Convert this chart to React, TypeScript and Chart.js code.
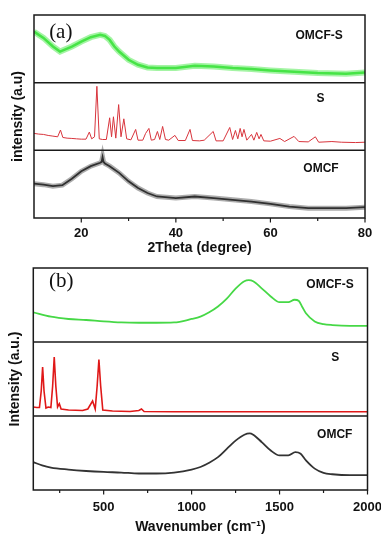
import { useEffect, useRef } from "react";
import { Chart, registerables } from "chart.js";

Chart.register(...registerables);

// ---------- Panel (a): XRD, 2Theta (degree) ----------
const xrdOmcfSX = [10, 12, 14, 15.5, 18, 20, 22, 24, 25, 26, 27, 28, 30, 32, 34, 36, 40, 44, 48, 52, 56, 60, 64, 70, 76, 80];
const xrdOmcfSY = [0.754, 0.662, 0.534, 0.46, 0.534, 0.607, 0.672, 0.706, 0.691, 0.632, 0.534, 0.46, 0.338, 0.265, 0.225, 0.216, 0.216, 0.25, 0.24, 0.216, 0.201, 0.181, 0.166, 0.143, 0.132, 0.151];

const xrdSX = [10, 11, 12, 13, 14, 15, 15.6, 16.1, 17, 18, 19, 20, 21, 21.7, 22.2, 22.8, 23.3, 23.8, 24.5, 25.3, 26.0, 26.4, 26.8, 27.3, 27.9, 28.4, 29.0, 29.6, 30.5, 31.5, 32.0, 33.0, 33.6, 34.3, 34.8, 35.5, 36.1, 36.6, 37.2, 37.8, 38.5, 39.8, 40.5, 42, 43.0, 43.5, 45, 46, 47.9, 48.5, 50, 51.4, 52.0, 52.6, 53.1, 53.6, 54.0, 54.4, 55.0, 56.0, 56.5, 57.1, 57.6, 58.0, 58.6, 60, 62, 63, 65, 66, 68, 69.5, 70.2, 73, 75, 78, 80];
const xrdSY = [0.25, 0.24, 0.235, 0.22, 0.21, 0.2, 0.3, 0.19, 0.18, 0.176, 0.17, 0.165, 0.165, 0.27, 0.17, 0.2, 0.946, 0.17, 0.16, 0.16, 0.481, 0.2, 0.496, 0.18, 0.676, 0.2, 0.466, 0.17, 0.155, 0.309, 0.15, 0.15, 0.25, 0.324, 0.15, 0.16, 0.279, 0.16, 0.353, 0.16, 0.15, 0.221, 0.145, 0.145, 0.309, 0.145, 0.14, 0.15, 0.279, 0.14, 0.14, 0.338, 0.16, 0.294, 0.17, 0.324, 0.2, 0.309, 0.15, 0.235, 0.15, 0.265, 0.17, 0.235, 0.14, 0.135, 0.176, 0.13, 0.206, 0.13, 0.125, 0.2, 0.12, 0.13, 0.12, 0.115, 0.12];

const xrdOmcfX = [10, 12, 14, 16, 18, 20, 22, 24, 24.3, 24.5, 24.7, 25, 26, 28, 30, 32, 34, 36, 40, 44, 48, 52, 56, 60, 64, 68, 72, 76, 80];
const xrdOmcfY = [0.507, 0.493, 0.47, 0.485, 0.58, 0.691, 0.766, 0.816, 0.83, 0.9, 0.83, 0.806, 0.766, 0.667, 0.542, 0.443, 0.369, 0.318, 0.294, 0.318, 0.294, 0.269, 0.243, 0.209, 0.169, 0.145, 0.145, 0.145, 0.16];

const xrdTicks = [10, 20, 30, 40, 50, 60, 70, 80];

// ---------- Panel (b): Raman, Wavenumber (cm-1) ----------
const ramanOmcfSX = [100, 200, 300, 400, 500, 600, 700, 800, 900, 1000, 1050, 1100, 1150, 1200, 1250, 1300, 1325, 1350, 1400, 1450, 1500, 1550, 1585, 1610, 1630, 1650, 1700, 1750, 1800, 1900, 2000];
const ramanOmcfSY = [0.401, 0.342, 0.311, 0.297, 0.278, 0.264, 0.26, 0.26, 0.264, 0.311, 0.342, 0.401, 0.479, 0.585, 0.722, 0.822, 0.836, 0.822, 0.722, 0.616, 0.538, 0.538, 0.571, 0.555, 0.47, 0.388, 0.278, 0.242, 0.229, 0.219, 0.219];

const ramanSX = [100, 120, 135, 145, 153, 161, 172, 185, 200, 210, 219, 228, 238, 248, 258, 300, 380, 410, 437, 452, 463, 473, 483, 495, 550, 650, 700, 715, 730, 900, 1200, 2000];
const ramanSY = [0.122, 0.115, 0.115, 0.338, 0.662, 0.338, 0.108, 0.122, 0.115, 0.405, 0.797, 0.405, 0.122, 0.166, 0.095, 0.081, 0.074, 0.095, 0.203, 0.095, 0.405, 0.764, 0.405, 0.081, 0.068, 0.061, 0.074, 0.095, 0.061, 0.058, 0.058, 0.058];

const ramanOmcfX = [100, 150, 200, 300, 400, 500, 600, 700, 800, 900, 1000, 1050, 1100, 1150, 1200, 1250, 1300, 1330, 1350, 1400, 1450, 1500, 1550, 1590, 1620, 1650, 1700, 1750, 1800, 1900, 2000];
const ramanOmcfY = [0.377, 0.333, 0.303, 0.276, 0.257, 0.244, 0.236, 0.223, 0.223, 0.236, 0.276, 0.311, 0.369, 0.444, 0.556, 0.667, 0.747, 0.764, 0.747, 0.644, 0.533, 0.467, 0.467, 0.511, 0.489, 0.4, 0.289, 0.231, 0.213, 0.2, 0.2];

const ramanTicks = [100, 250, 500, 750, 1000, 1250, 1500, 1750, 2000];

const seriesNames = ["OMCF-S", "S", "OMCF"];

const SANS = "'Liberation Sans', Arial, sans-serif";
const SERIF = "'Liberation Serif', 'Times New Roman', serif";

const pts = (xs: number[], ys: number[], offset: number) =>
  xs.map((x, i) => ({ x, y: ys[i] + offset }));

const framePlugin = {
  id: "frame",
  afterDatasetsDraw(chart: any, _args: any, opts: any) {
    const { ctx, chartArea: a, scales } = chart;
    const xs = scales.x;
    const ys = scales.y;
    ctx.save();
    ctx.strokeStyle = "#1a1a1a";
    ctx.lineWidth = 1.5;
    for (const v of opts.dividers) {
      const py = ys.getPixelForValue(v);
      ctx.beginPath();
      ctx.moveTo(a.left, py);
      ctx.lineTo(a.right, py);
      ctx.stroke();
    }
    ctx.strokeRect(a.left, a.top, a.right - a.left, a.bottom - a.top);
    ctx.lineWidth = 1.2;
    for (const t of xs.ticks) {
      if (t.value === xs.min) continue;
      const px = xs.getPixelForValue(t.value);
      const major = t.value % opts.major === 0;
      ctx.beginPath();
      ctx.moveTo(px, a.bottom);
      ctx.lineTo(px, a.bottom + (major ? 4.5 : 3));
      ctx.stroke();
    }
    ctx.fillStyle = "#111";
    ctx.textAlign = "center";
    ctx.textBaseline = "middle";
    ctx.font = `bold 12px ${SANS}`;
    opts.labels.forEach((l: any, i: number) => {
      ctx.fillText(seriesNames[i], xs.getPixelForValue(l.x), ys.getPixelForValue(l.y));
    });
    ctx.textAlign = "left";
    ctx.font = `21px ${SERIF}`;
    ctx.fillText(opts.tag, xs.getPixelForValue(opts.tagX), ys.getPixelForValue(opts.tagY));
    ctx.restore();
  },
};

function makeConfig(p: any) {
  const datasets: any[] = [];
  p.series.forEach((s: any) => {
    if (s.halo) {
      datasets.push({
        data: s.data,
        borderColor: s.halo,
        borderWidth: s.haloWidth,
        pointRadius: 0,
        fill: false,
        tension: 0,
      });
    }
    datasets.push({
      data: s.data,
      borderColor: s.color,
      borderWidth: s.width,
      pointRadius: 0,
      fill: false,
      tension: 0,
      cubicInterpolationMode: s.mono ? "monotone" : "default",
    });
  });
  return {
    type: "line",
    data: { datasets },
    options: {
      animation: false,
      responsive: false,
      devicePixelRatio: 1,
      layout: { padding: { top: p.padTop, right: p.padRight, left: 0, bottom: 0 } },
      plugins: {
        legend: { display: false },
        tooltip: { enabled: false },
        frame: p.frame,
      },
      scales: {
        x: {
          type: "linear",
          min: p.xmin,
          max: p.xmax,
          afterBuildTicks: (s: any) => {
            s.ticks = p.ticks.map((v: number) => ({ value: v }));
          },
          afterFit: (s: any) => {
            s.height = p.xHeight;
            s.paddingLeft = 0;
            s.paddingRight = 0;
          },
          grid: { display: false, drawTicks: true, tickLength: 5 },
          border: { display: false },
          ticks: {
            autoSkip: false,
            maxRotation: 0,
            padding: p.tickPad,
            color: "#111",
            font: { family: SANS, size: 13, weight: "bold" },
            callback: (v: number) => (v % p.major === 0 ? String(v) : ""),
          },
          title: {
            display: true,
            text: p.xTitle,
            color: "#111",
            font: { family: SANS, size: 14, weight: "bold", lineHeight: 1 },
            padding: { top: 0, bottom: p.xTitlePad },
          },
        },
        y: {
          min: 0,
          max: 3,
          afterFit: (s: any) => {
            s.width = p.yWidth;
            s.paddingTop = 0;
            s.paddingBottom = 0;
          },
          grid: { display: false, drawTicks: false },
          border: { display: false },
          ticks: { display: false },
          title: {
            display: true,
            text: p.yTitle,
            color: "#111",
            font: { family: SANS, size: 14, weight: "bold", lineHeight: 1 },
            padding: { top: p.yTitlePad, bottom: 0 },
          },
        },
      },
    },
    plugins: [framePlugin],
  };
}

function Panel({ top, height, p }: { top: number; height: number; p: any }) {
  const ref = useRef<HTMLCanvasElement | null>(null);
  useEffect(() => {
    if (!ref.current) return;
    const chart = new Chart(ref.current, makeConfig(p) as any);
    return () => chart.destroy();
  }, []);
  return (
    <canvas
      ref={ref}
      width={381}
      height={height}
      style={{ position: "absolute", left: 0, top, width: 381, height, display: "block" }}
    />
  );
}

const panelA = {
  xmin: 10,
  xmax: 80,
  ticks: xrdTicks,
  major: 20,
  padTop: 15,
  padRight: 16,
  yWidth: 34,
  xHeight: 42,
  tickPad: 3,
  xTitle: "2Theta (degree)",
  xTitlePad: 5,
  yTitle: "intensity (a.u)",
  yTitlePad: 11,
  series: [
    { data: pts(xrdOmcfSX, xrdOmcfSY, 2), color: "#2fdc2f", width: 2.5, halo: "rgba(90,235,90,0.55)", haloWidth: 6 },
    { data: pts(xrdSX, xrdSY, 1), color: "#d8343c", width: 1 },
    { data: pts(xrdOmcfX, xrdOmcfY, 0), color: "#1e1e1e", width: 1.8, halo: "rgba(70,70,70,0.45)", haloWidth: 5 },
  ],
  frame: {
    dividers: [1, 2],
    major: 20,
    labels: [
      { x: 70.3, y: 2.69 },
      { x: 70.6, y: 1.76 },
      { x: 70.7, y: 0.724 },
    ],
    tag: "(a)",
    tagX: 13.2,
    tagY: 2.74,
  },
};

const panelB = {
  xmin: 100,
  xmax: 2000,
  ticks: ramanTicks,
  major: 500,
  padTop: 8,
  padRight: 13.5,
  yWidth: 33.3,
  xHeight: 44,
  tickPad: 5,
  xTitle: "Wavenumber (cm\u207B\u00B9)",
  xTitlePad: 0,
  yTitle: "Intensity (a.u.)",
  yTitlePad: 8,
  series: [
    { data: pts(ramanOmcfSX, ramanOmcfSY, 2), color: "#46d846", width: 1.8, mono: true },
    { data: pts(ramanSX, ramanSY, 1), color: "#e01818", width: 1.6 },
    { data: pts(ramanOmcfX, ramanOmcfY, 0), color: "#333333", width: 1.8, mono: true },
  ],
  frame: {
    dividers: [1, 2],
    major: 500,
    labels: [
      { x: 1787, y: 2.77 },
      { x: 1817, y: 1.784 },
      { x: 1814, y: 0.743 },
    ],
    tag: "(b)",
    tagX: 189,
    tagY: 2.818,
  },
};

export default function App() {
  return (
    <div style={{ position: "fixed", left: 0, top: 0, width: 381, height: 534, background: "#fff", overflow: "hidden" }}>
      <Panel top={0} height={260} p={panelA} />
      <Panel top={260} height={274} p={panelB} />
    </div>
  );
}
